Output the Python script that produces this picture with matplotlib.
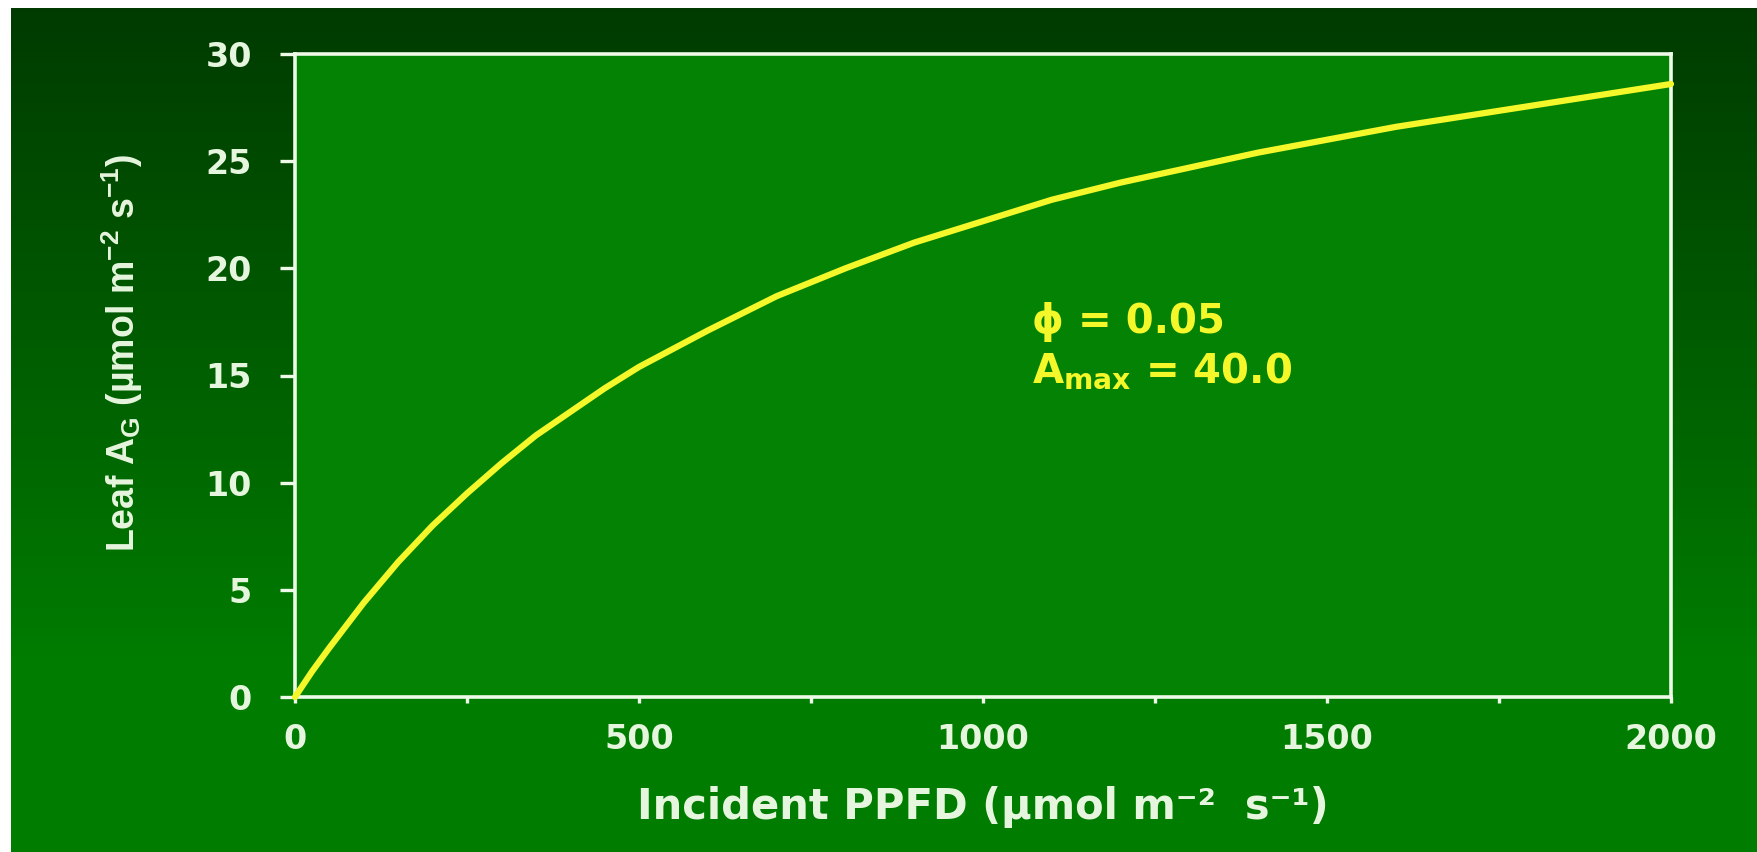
import numpy as np
import matplotlib
matplotlib.use("Agg")
import matplotlib.pyplot as plt

# === Data ===
ppfd = [0, 25, 50, 100, 150, 200, 250, 300, 350, 400, 450, 500, 600, 700, 800,
        900, 1000, 1100, 1200, 1300, 1400, 1500, 1600, 1700, 1800, 1900, 2000]
leaf_ag = [0.0, 1.2, 2.3, 4.4, 6.3, 8.0, 9.5, 10.9, 12.2, 13.3, 14.4, 15.4, 17.1,
           18.7, 20.0, 21.2, 22.2, 23.2, 24.0, 24.7, 25.4, 26.0, 26.6, 27.1,
           27.6, 28.1, 28.6]
x_ticks = [0, 250, 500, 750, 1000, 1250, 1500, 1750, 2000]
x_tick_labels = ["0", "", "500", "", "1000", "", "1500", "", "2000"]
y_ticks = [0, 5, 10, 15, 20, 25, 30]

# === Colours ===
TXT = "#e6f6de"
YEL = "#f4f82a"
PLOT_BG = "#038203"
SPINE = "#eefbe8"

W, H, DPI = 1758, 852, 100
fig = plt.figure(figsize=(W / DPI, H / DPI), dpi=DPI, facecolor="white")

# background gradient (dark at top, brighter green at bottom)
bg = fig.add_axes([11 / W, 0, 1 - 11 / W, 1 - 8 / H], zorder=-5)
bg.axis("off")
t = np.clip(np.linspace(0, 1, 400) / 0.78, 0, 1)
top = np.array([0.0, 0.23, 0.0])
bot = np.array([0.0, 0.49, 0.0])
grad = top[None, :] + (bot - top)[None, :] * t[:, None]
grad = np.repeat(grad[:, None, :], 2, axis=1)
bg.imshow(grad, aspect="auto", extent=[0, 1, 0, 1], interpolation="bilinear")

# main axes
ax = fig.add_axes([295 / W, 1 - 697 / H, (1671 - 295) / W, (697 - 54) / H])
ax.set_facecolor(PLOT_BG)
ax.plot(ppfd, leaf_ag, color=YEL, lw=4.5, solid_capstyle="round",
        solid_joinstyle="round", clip_on=False, zorder=3)

ax.set_xlim(0, 2000)
ax.set_ylim(0, 30)
for s in ax.spines.values():
    s.set_color(SPINE)
    s.set_linewidth(2.6)

ax.set_xticks(x_ticks)
ax.set_xticklabels(x_tick_labels)
ax.set_yticks(y_ticks)
ax.tick_params(axis="x", direction="out", length=4.5, width=2.4, color=SPINE,
               pad=14, labelsize=24, labelcolor=TXT)
ax.tick_params(axis="y", direction="out", length=11, width=2.4, color=SPINE,
               pad=20, labelsize=24, labelcolor=TXT)
for lab in ax.get_xticklabels() + ax.get_yticklabels():
    lab.set_family("DejaVu Sans")
    lab.set_fontweight("bold")

ax.set_xlabel("Incident PPFD (µmol m⁻²  s⁻¹)", family=["DejaVu Sans"],
              fontweight="bold", fontsize=30, color=TXT, labelpad=22)
ax.set_ylabel("Leaf A$_\\mathregular{G}$ (µmol m$^{\\mathregular{-2}}$ s$^{\\mathregular{-1}}$)",
              family=["Liberation Sans Narrow", "Liberation Sans", "DejaVu Sans"],
              fontweight="bold", fontsize=27, color=TXT)
ax.yaxis.set_label_coords(-0.109, 0.535)

# annotation
ax.text(1071, 17.0, "ϕ = 0.05", family=["DejaVu Sans"], fontweight="bold",
        fontsize=29, color=YEL, va="baseline", ha="left")
ax.text(1071, 14.66, "A$_{\\mathregular{max}}$ = 40.0", family=["DejaVu Sans"],
        fontweight="bold", fontsize=29, color=YEL, va="baseline", ha="left")

fig.savefig("out.png", dpi=DPI, facecolor=fig.get_facecolor())
